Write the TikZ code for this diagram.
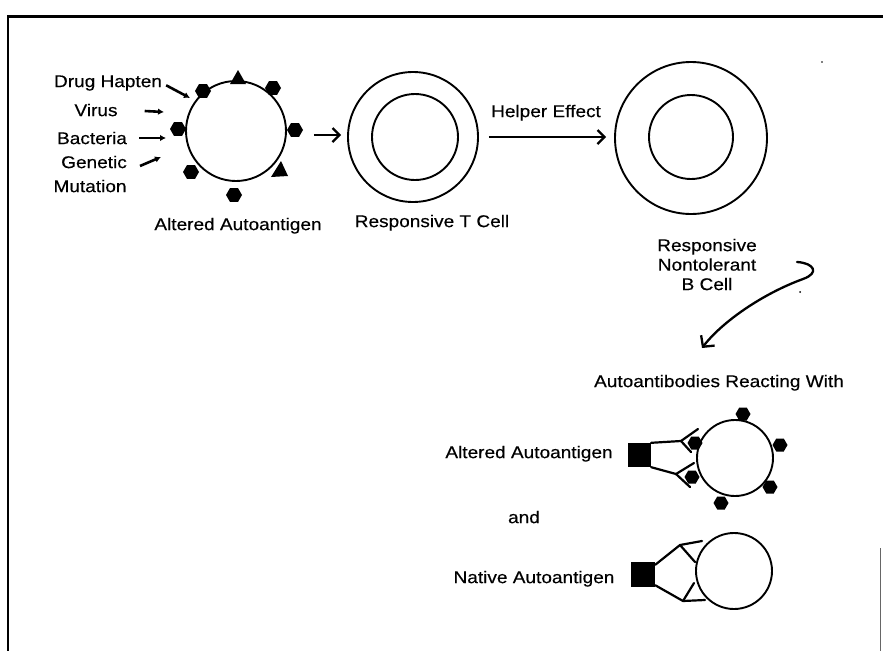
\documentclass[tikz,border=0pt]{standalone}
\usepackage{fontspec}
\setmainfont{Liberation Sans}[FakeStretch=1.12,FakeBold=0.4]
\usetikzlibrary{shapes.geometric,arrows.meta,calc}
\begin{document}
\begin{tikzpicture}[x=1pt,y=-1pt,
  cell/.style={circle,draw,line width=1.9pt,inner sep=0pt},
  hexa/.style={regular polygon,regular polygon sides=6,fill=black,minimum size=16pt,inner sep=0pt},
  lbl/.style={font=\fontsize{17}{20}\selectfont,inner sep=0pt,text height=12.2pt,text depth=0pt},
  harr/.style={line width=2.6pt,-{Latex[length=6pt,width=6.5pt]}},
  barb/.style={line width=2.2pt,-{Straight Barb[length=7pt,width=14pt,line width=2.2pt]}},
  ab/.style={line width=2.2pt,line join=round,line cap=round},
  sq/.style={fill=black,inner sep=0pt,minimum width=24pt,minimum height=24pt}]
\useasboundingbox (0,0) rectangle (883,651);
% frame
\draw[line width=3pt] (8,16) -- (883,16);
\draw[line width=2pt] (8,15) -- (8,651);
\draw[line width=1pt,black!60] (880,548) -- (880,651);

% altered autoantigen (top)
\node[cell,minimum size=100pt] (aa) at (236,131) {};
\foreach \p in {(203,91),(273,88),(295,130),(178,129),(191,172),(234,195)}
  \node[hexa] at \p {};
\fill (230,84) -- (238,70) -- (246,84) -- cycle;
\fill (271,177) -- (281,161) -- (288,176) -- cycle;

\node[lbl] (ldrug) at (108,81) {Drug Hapten};
\node[lbl] (lvirus) at (96,110) {Virus};
\node[lbl] (lbact) at (92,138) {Bacteria};
\node[lbl] (lgen) at (94,162) {Genetic};
\node[lbl] (lmut) at (90,186) {Mutation};
\coordinate (edrug) at (190,98);
\coordinate (evirus) at (164,112);
\coordinate (ebact) at (166,138);
\coordinate (egen) at (161,157);
\draw[harr] ([xshift=4pt,yshift=2pt]ldrug.south east) -- (edrug);
\draw[harr] ([xshift=27pt,yshift=-1pt]lvirus.east) -- (evirus);
\draw[harr] ([xshift=12pt]lbact.east) -- (ebact);
\draw[harr] ([xshift=13pt,yshift=-4pt]lgen.east) -- (egen);

\node[lbl] (laa) at (238,224) {Altered Autoantigen};

% T cell
\node[cell,minimum size=130pt] (tc) at (413,137) {};
\node[cell,minimum size=86pt] (tci) at (415,137) {};
\node[lbl] (ltc) at (432,221) {Responsive T Cell};
\draw[barb] ([xshift=27pt,yshift=-4pt]aa.east) -- ([xshift=-6pt,yshift=2pt]tc.west);

% B cell
\node[cell,minimum size=152pt] (bc) at (691,138) {};
\node[cell,minimum size=84pt] (bci) at (691,137) {};
\node[lbl] (lhelp) at (546,111) {Helper Effect};
\draw[barb] ([xshift=10pt]tc.east) -- ([xshift=-8pt,yshift=1pt]bc.west);
\node[lbl] (lb1) at (707,245) {Responsive};
\node[lbl] (lb2) at (707,264.5) {Nontolerant};
\node[lbl] (lb3) at (707,284) {B Cell};

% curved arrow
\coordinate (cs) at (797,262);
\coordinate (ce) at (702,348);
\draw[line width=2.3pt,line cap=round,-{Straight Barb[length=8pt,width=17pt,line width=2.3pt]}]
  (cs) .. controls (814,263) and (820,273) .. (803,279)
  .. controls (762,294) and (722,322) .. (ce);
\fill (800,292) circle (1pt);
\fill (822,62) circle (0.8pt);

\node[lbl] (lab) at (719,381) {Autoantibodies Reacting With};

% altered autoantigen with antibody
\node[lbl] (lalt) at (529,452) {Altered Autoantigen};
\node[cell,minimum size=76pt] (ag1) at (735,458) {};
\foreach \p in {(743,414),(780,445),(770,487),(721,503),(695,443),(692,477)}
  \node[hexa,minimum size=15pt] at \p {};
\node[sq,minimum width=23pt] (sq1) at (639.5,455) {};
\draw[ab] (sq1.north east) -- (681,441) -- (698,429);
\draw[ab] (681,441) -- (691,452);
\draw[ab] (sq1.south east) -- (676,474) -- (694,463);
\draw[ab] (676,474) -- (690,487);

\node[lbl] (land) at (524,517) {and};

% native autoantigen with antibody
\node[lbl] (lnat) at (534,577) {Native Autoantigen};
\node[cell,minimum size=76pt] (ag2) at (734,571) {};
\node[sq,minimum height=25pt] (sq2) at (643,574.5) {};
\draw[ab] ([yshift=-3pt]sq2.north east) -- (680,545) -- (702,541);
\draw[ab] (680,545) -- (695,562);
\draw[ab] ([yshift=2pt]sq2.south east) -- (683,601) -- (705,600);
\draw[ab] (683,601) -- (694,583);
\end{tikzpicture}
\end{document}
